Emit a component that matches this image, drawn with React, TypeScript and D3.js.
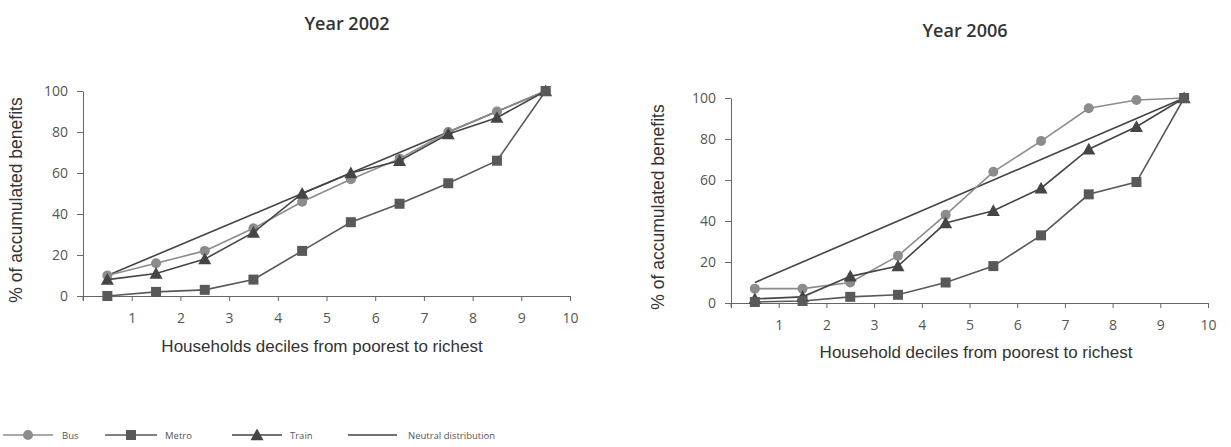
import React, { useEffect, useRef } from 'react';
import * as d3 from 'd3';

// deciles (midpoints) on the x axis
const deciles = [0.5, 1.5, 2.5, 3.5, 4.5, 5.5, 6.5, 7.5, 8.5, 9.5];
const xTicks = [1, 2, 3, 4, 5, 6, 7, 8, 9, 10];
const yTicks = [0, 20, 40, 60, 80, 100];

// Year 2002
const bus2002 = [10, 16, 22, 33, 46, 57, 67, 80, 90, 100];
const metro2002 = [0, 2, 3, 8, 22, 36, 45, 55, 66, 100];
const train2002 = [8, 11, 18, 31, 50, 60, 66, 79, 87, 100];

// Year 2006
const bus2006 = [7, 7, 10, 23, 43, 64, 79, 95, 99, 100];
const metro2006 = [0.5, 1, 3, 4, 10, 18, 33, 53, 59, 100];
const train2006 = [2, 3, 13, 18, 39, 45, 56, 75, 86, 100];

const neutral = [10, 20, 30, 40, 50, 60, 70, 80, 90, 100];

const W = 1231;
const H = 447;

const COLORS = { bus: '#8c8c8c', metro: '#595959', train: '#454545', neutral: '#454545' };

type Panel = {
  title: string;
  xLabel: string;
  x0: number; x1: number; y0: number; y1: number;
  titleX: number; titleY: number;
  yLabelX: number; yLabelY: number;
  xLabelX: number; xLabelY: number;
  bus: number[]; metro: number[]; train: number[];
};

const panels: Panel[] = [
  {
    title: 'Year 2002', xLabel: 'Households deciles from poorest to richest',
    x0: 83, x1: 570, y0: 296, y1: 91,
    titleX: 347, titleY: 30, yLabelX: 22, yLabelY: 200, xLabelX: 322, xLabelY: 352,
    bus: bus2002, metro: metro2002, train: train2002,
  },
  {
    title: 'Year 2006', xLabel: 'Household deciles from poorest to richest',
    x0: 731, x1: 1208, y0: 303, y1: 98,
    titleX: 965, titleY: 37, yLabelX: 664, yLabelY: 207, xLabelX: 976, xLabelY: 358,
    bus: bus2006, metro: metro2006, train: train2006,
  },
];

const App: React.FC = () => {
  const svgRef = useRef<SVGSVGElement>(null);

  useEffect(() => {
    if (!svgRef.current) return;
    const svg = d3.select(svgRef.current);
    svg.selectAll('*').remove();

    const tickFont = '"Open Sans", sans-serif';
    const labelFont = '"Liberation Sans", Arial, sans-serif';

    const drawMarker = (g: d3.Selection<SVGGElement, unknown, null, undefined>, kind: string, cx: number, cy: number, color: string) => {
      if (kind === 'bus') {
        g.append('circle').attr('cx', cx).attr('cy', cy).attr('r', 5).attr('fill', color);
      } else if (kind === 'metro') {
        g.append('rect').attr('x', cx - 5).attr('y', cy - 5).attr('width', 10).attr('height', 10).attr('fill', color);
      } else if (kind === 'train') {
        const s = 6.5;
        g.append('path')
          .attr('d', `M${cx},${cy - s}L${cx + s},${cy + s * 0.8}L${cx - s},${cy + s * 0.8}Z`)
          .attr('fill', color);
      }
    };

    panels.forEach(p => {
      const x = d3.scaleLinear().domain([0, 10]).range([p.x0, p.x1]);
      const y = d3.scaleLinear().domain([0, 100]).range([p.y0, p.y1]);
      const g = svg.append('g');

      // title
      g.append('text')
        .attr('x', p.titleX).attr('y', p.titleY)
        .attr('text-anchor', 'middle')
        .attr('font-family', tickFont).attr('font-weight', 600)
        .attr('font-size', 18).attr('fill', '#333')
        .text(p.title);

      // axes
      const xAxis = g.append('g').attr('transform', `translate(0,${p.y0})`)
        .call(d3.axisBottom(x).tickValues([0, ...xTicks]).tickSize(5).tickSizeOuter(0)
          .tickFormat(d => (d === 0 ? '' : String(d))));
      xAxis.select('.domain').attr('stroke', '#666');
      xAxis.selectAll('line').attr('stroke', '#666');
      xAxis.selectAll('text').attr('font-family', tickFont).attr('font-size', 14).attr('fill', '#555')
        .attr('y', 17).attr('dy', '0.71em');

      const yAxis = g.append('g').attr('transform', `translate(${p.x0},0)`)
        .call(d3.axisLeft(y).tickValues(yTicks).tickSize(6).tickSizeOuter(0));
      yAxis.select('.domain').attr('stroke', '#666');
      yAxis.selectAll('line').attr('stroke', '#666');
      yAxis.selectAll('text').attr('font-family', tickFont).attr('font-size', 14).attr('fill', '#555').attr('x', -15);
      // y axis extends slightly below x axis
      g.append('line').attr('x1', p.x0).attr('x2', p.x0).attr('y1', p.y0).attr('y2', p.y0 + 4).attr('stroke', '#666');

      // axis labels
      g.append('text')
        .attr('transform', `translate(${p.yLabelX},${p.yLabelY}) rotate(-90)`)
        .attr('text-anchor', 'middle')
        .attr('font-family', labelFont).attr('font-size', 17.5).attr('fill', '#333')
        .text('% of accumulated benefits');
      g.append('text')
        .attr('x', p.xLabelX).attr('y', p.xLabelY)
        .attr('text-anchor', 'middle')
        .attr('font-family', labelFont).attr('font-size', 17).attr('fill', '#333')
        .text(p.xLabel);

      const line = d3.line<number>().x((_, i) => x(deciles[i])).y(d => y(d));

      // neutral distribution
      g.append('path').attr('d', line(neutral)).attr('fill', 'none')
        .attr('stroke', COLORS.neutral).attr('stroke-width', 1.6);

      const series: [string, number[]][] = [['bus', p.bus], ['train', p.train], ['metro', p.metro]];
      series.forEach(([kind, vals]) => {
        const color = (COLORS as any)[kind];
        g.append('path').attr('d', line(vals)).attr('fill', 'none')
          .attr('stroke', color).attr('stroke-width', 1.6);
        vals.forEach((v, i) => drawMarker(g, kind, x(deciles[i]), y(v), color));
      });
    });

    // legend
    const legend = svg.append('g').attr('transform', 'translate(0,435)');
    const items = [
      { kind: 'bus', label: 'Bus', x1: 3, x2: 53, tx: 62 },
      { kind: 'metro', label: 'Metro', x1: 105, x2: 157, tx: 165 },
      { kind: 'train', label: 'Train', x1: 232, x2: 282, tx: 290 },
      { kind: 'neutral', label: 'Neutral distribution', x1: 348, x2: 397, tx: 408 },
    ];
    items.forEach(it => {
      const color = (COLORS as any)[it.kind];
      legend.append('line').attr('x1', it.x1).attr('x2', it.x2).attr('y1', 0).attr('y2', 0)
        .attr('stroke', color).attr('stroke-width', 1.4);
      drawMarker(legend as any, it.kind, (it.x1 + it.x2) / 2, 0, color);
      legend.append('text').attr('x', it.tx).attr('y', 3.5)
        .attr('font-family', tickFont).attr('font-size', 9.5).attr('fill', '#555')
        .text(it.label);
    });
  }, []);

  return (
    <svg
      ref={svgRef}
      width={W}
      height={H}
      style={{ position: 'absolute', left: 0, top: 0, background: '#fff' }}
    />
  );
};

export default App;
